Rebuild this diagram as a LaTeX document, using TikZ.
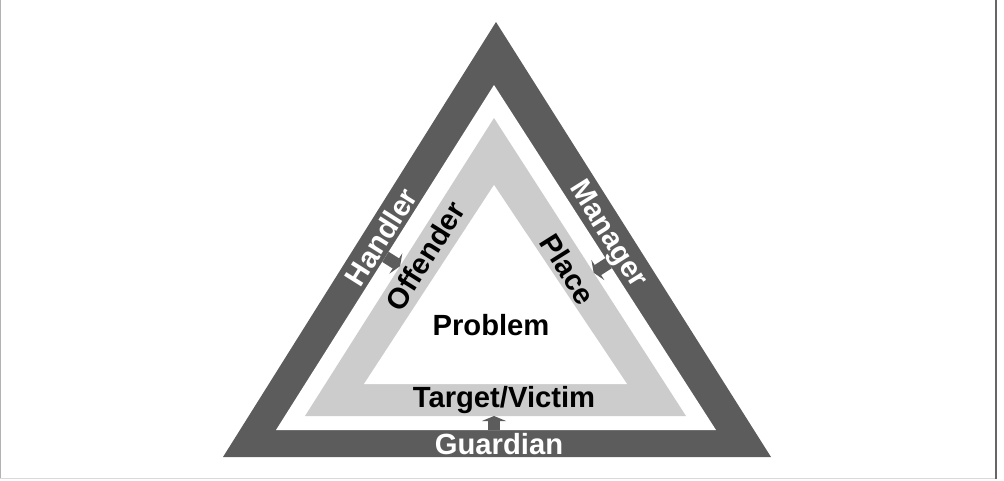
\documentclass[tikz,border=0pt]{standalone}
\usepackage{fontspec}
\setmainfont{Liberation Sans}
\usetikzlibrary{arrows.meta,calc}
\definecolor{darkband}{gray}{0.36}
\definecolor{lightband}{gray}{0.8}
\begin{document}
\begin{tikzpicture}[x=1pt,y=-1pt,
    link/.style={darkband,line width=12pt,-{Triangle[length=5pt,width=24pt]}},
    lbl/.style={font=\bfseries\fontsize{29.2}{30}\selectfont,inner sep=0pt}]
\useasboundingbox (0,0) rectangle (1004,480);
% frame
\draw[black!30] (0.5,0) -- (0.5,479);
\draw[black!15] (0,478.5) -- (997,478.5);
\draw[black!60,line width=2pt] (996,0) -- (996,479);
% the three bands
\fill[darkband] (496,22) -- (223,457) -- (771,457) -- cycle;
\fill[white] (494,85) coordinate (w1) -- (276,430) coordinate (w2)
    -- (716,430) coordinate (w3) -- cycle;
\fill[lightband] (494,118) coordinate (g1) -- (305,416) coordinate (g2)
    -- (686,416) coordinate (g3) -- cycle;
\fill[white] (494,185) -- (364,384) -- (627,384) -- cycle;
% arrows from outer band to inner band
\coordinate (hm) at (392,261);
\coordinate (mm) at (601,268);
\coordinate (gm) at (494,424);
\foreach \cm/\ca/\cb/\cc/\cd in {hm/w1/w2/g1/g2, mm/w3/w1/g3/g1, gm/w2/w3/g2/g3}
    \draw[link] ($(\ca)!(\cm)!(\cb)$) -- ($(\cc)!(\cm)!(\cd)$);
% labels
\node[lbl,white,rotate=57.8] (handler) at (381,237) {Handler};
\node[lbl,rotate=57.8] (offender) at (425,256) {Offender};
\node[lbl,white,rotate=-57.8] (manager) at (607,235) {Manager};
\node[lbl,rotate=-57.8] (place) at (568,269) {Place};
\node[lbl] (problem) at (491,325) {Problem};
\node[lbl] (target) at (504,400) {Target/Victim};
\node[lbl,white] (guardian) at (499,444) {Guardian};
\end{tikzpicture}
\end{document}
